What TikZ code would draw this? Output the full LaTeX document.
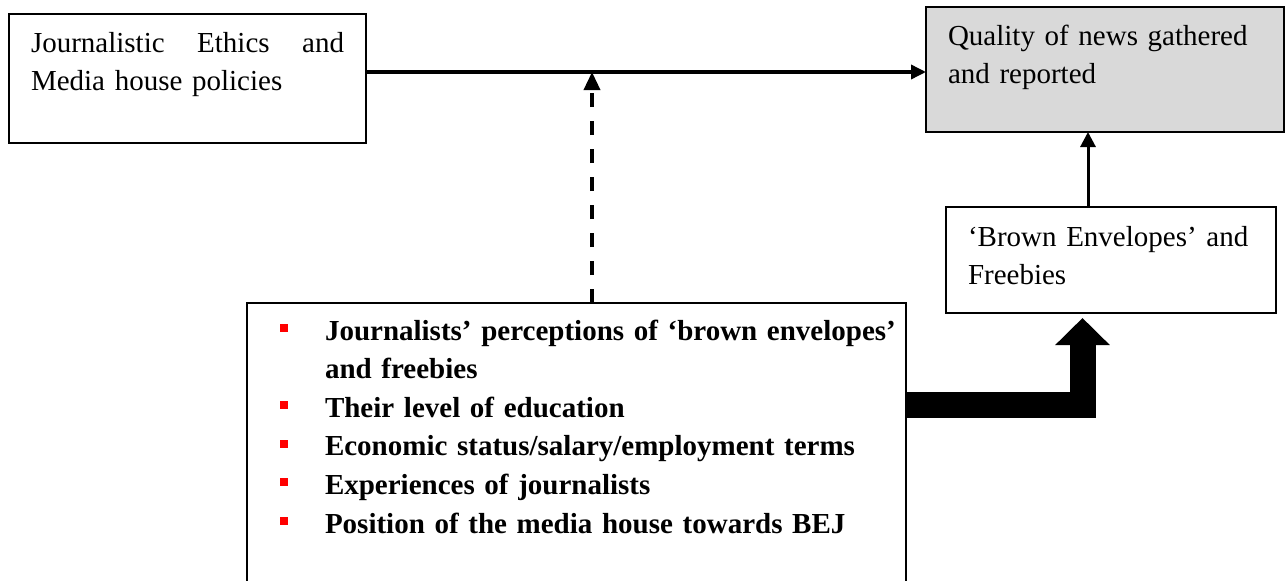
\documentclass[tikz,border=0pt]{standalone}
\usepackage{fontspec}
\setmainfont{Liberation Serif}
\usetikzlibrary{arrows.meta}
\definecolor{boxgray}{HTML}{D9D9D9}
\definecolor{bulletred}{HTML}{FF0000}
\newcommand{\bul}{\leavevmode\llap{\textcolor{bulletred}{\rule[8pt]{8pt}{8pt}}\hspace{37pt}}}

\begin{document}
\begin{tikzpicture}[x=1pt,y=-1pt,
    box/.style={draw,line width=1.5pt,anchor=north west,inner xsep=22pt,inner ysep=0pt,
      outer sep=0pt,align=left,font=\fontsize{29}{38.5}\selectfont},
    flow/.style={line width=3.5pt,-{Triangle[length=15pt,width=14pt]}},
    dashflow/.style={line width=3.5pt,dash pattern=on 14pt off 14pt,
      -{Triangle[length=18pt,width=16pt]}},
    link/.style={line width=3pt,-{Triangle[length=15pt,width=15pt]}},
    fat/.style={line width=26pt,-{Triangle[length=27pt,width=53pt]}}]
  \useasboundingbox (0,0) rectangle (1286,581);
  \node[box,text width=313pt,text height=38pt,text depth=91pt] (ethics) at (9,14)
    {Journalistic\hfill Ethics\hfill and\\Media house policies};
  \node[box,fill=boxgray,text width=314pt,text height=38pt,text depth=87pt] (quality) at (926,7)
    {Quality of news gathered\\and reported};
  \node[box,text width=286pt,text height=39pt,text depth=67pt] (brown) at (946,207)
    {‘Brown Envelopes’ and\\Freebies};
  \node[box,inner xsep=10pt,text width=639pt,text height=37pt,text depth=245pt,
    font=\fontsize{29}{38.6}\selectfont\bfseries] (factors) at (247,303)
    {\leftskip=68pt
     \bul Journalists’ perceptions of ‘brown envelopes’ and freebies\\
     \bul Their level of education\\
     \bul Economic status/salary/employment terms\\
     \bul Experiences of journalists\\
     \bul Position of the media house towards BEJ\par};
  \coordinate (join) at (592,72);
  \draw[flow] (ethics.east |- join) -- (quality.west |- join);
  \draw[dashflow] (factors.north -| join) -- (join);
  \draw[link] ([xshift=-23pt]brown.north) -- ([xshift=-23pt]brown.north |- quality.south);
  \draw[fat] ([yshift=-102pt]factors.north east) -| ([xshift=-28.5pt,yshift=-5pt]brown.south);
\end{tikzpicture}
\end{document}
